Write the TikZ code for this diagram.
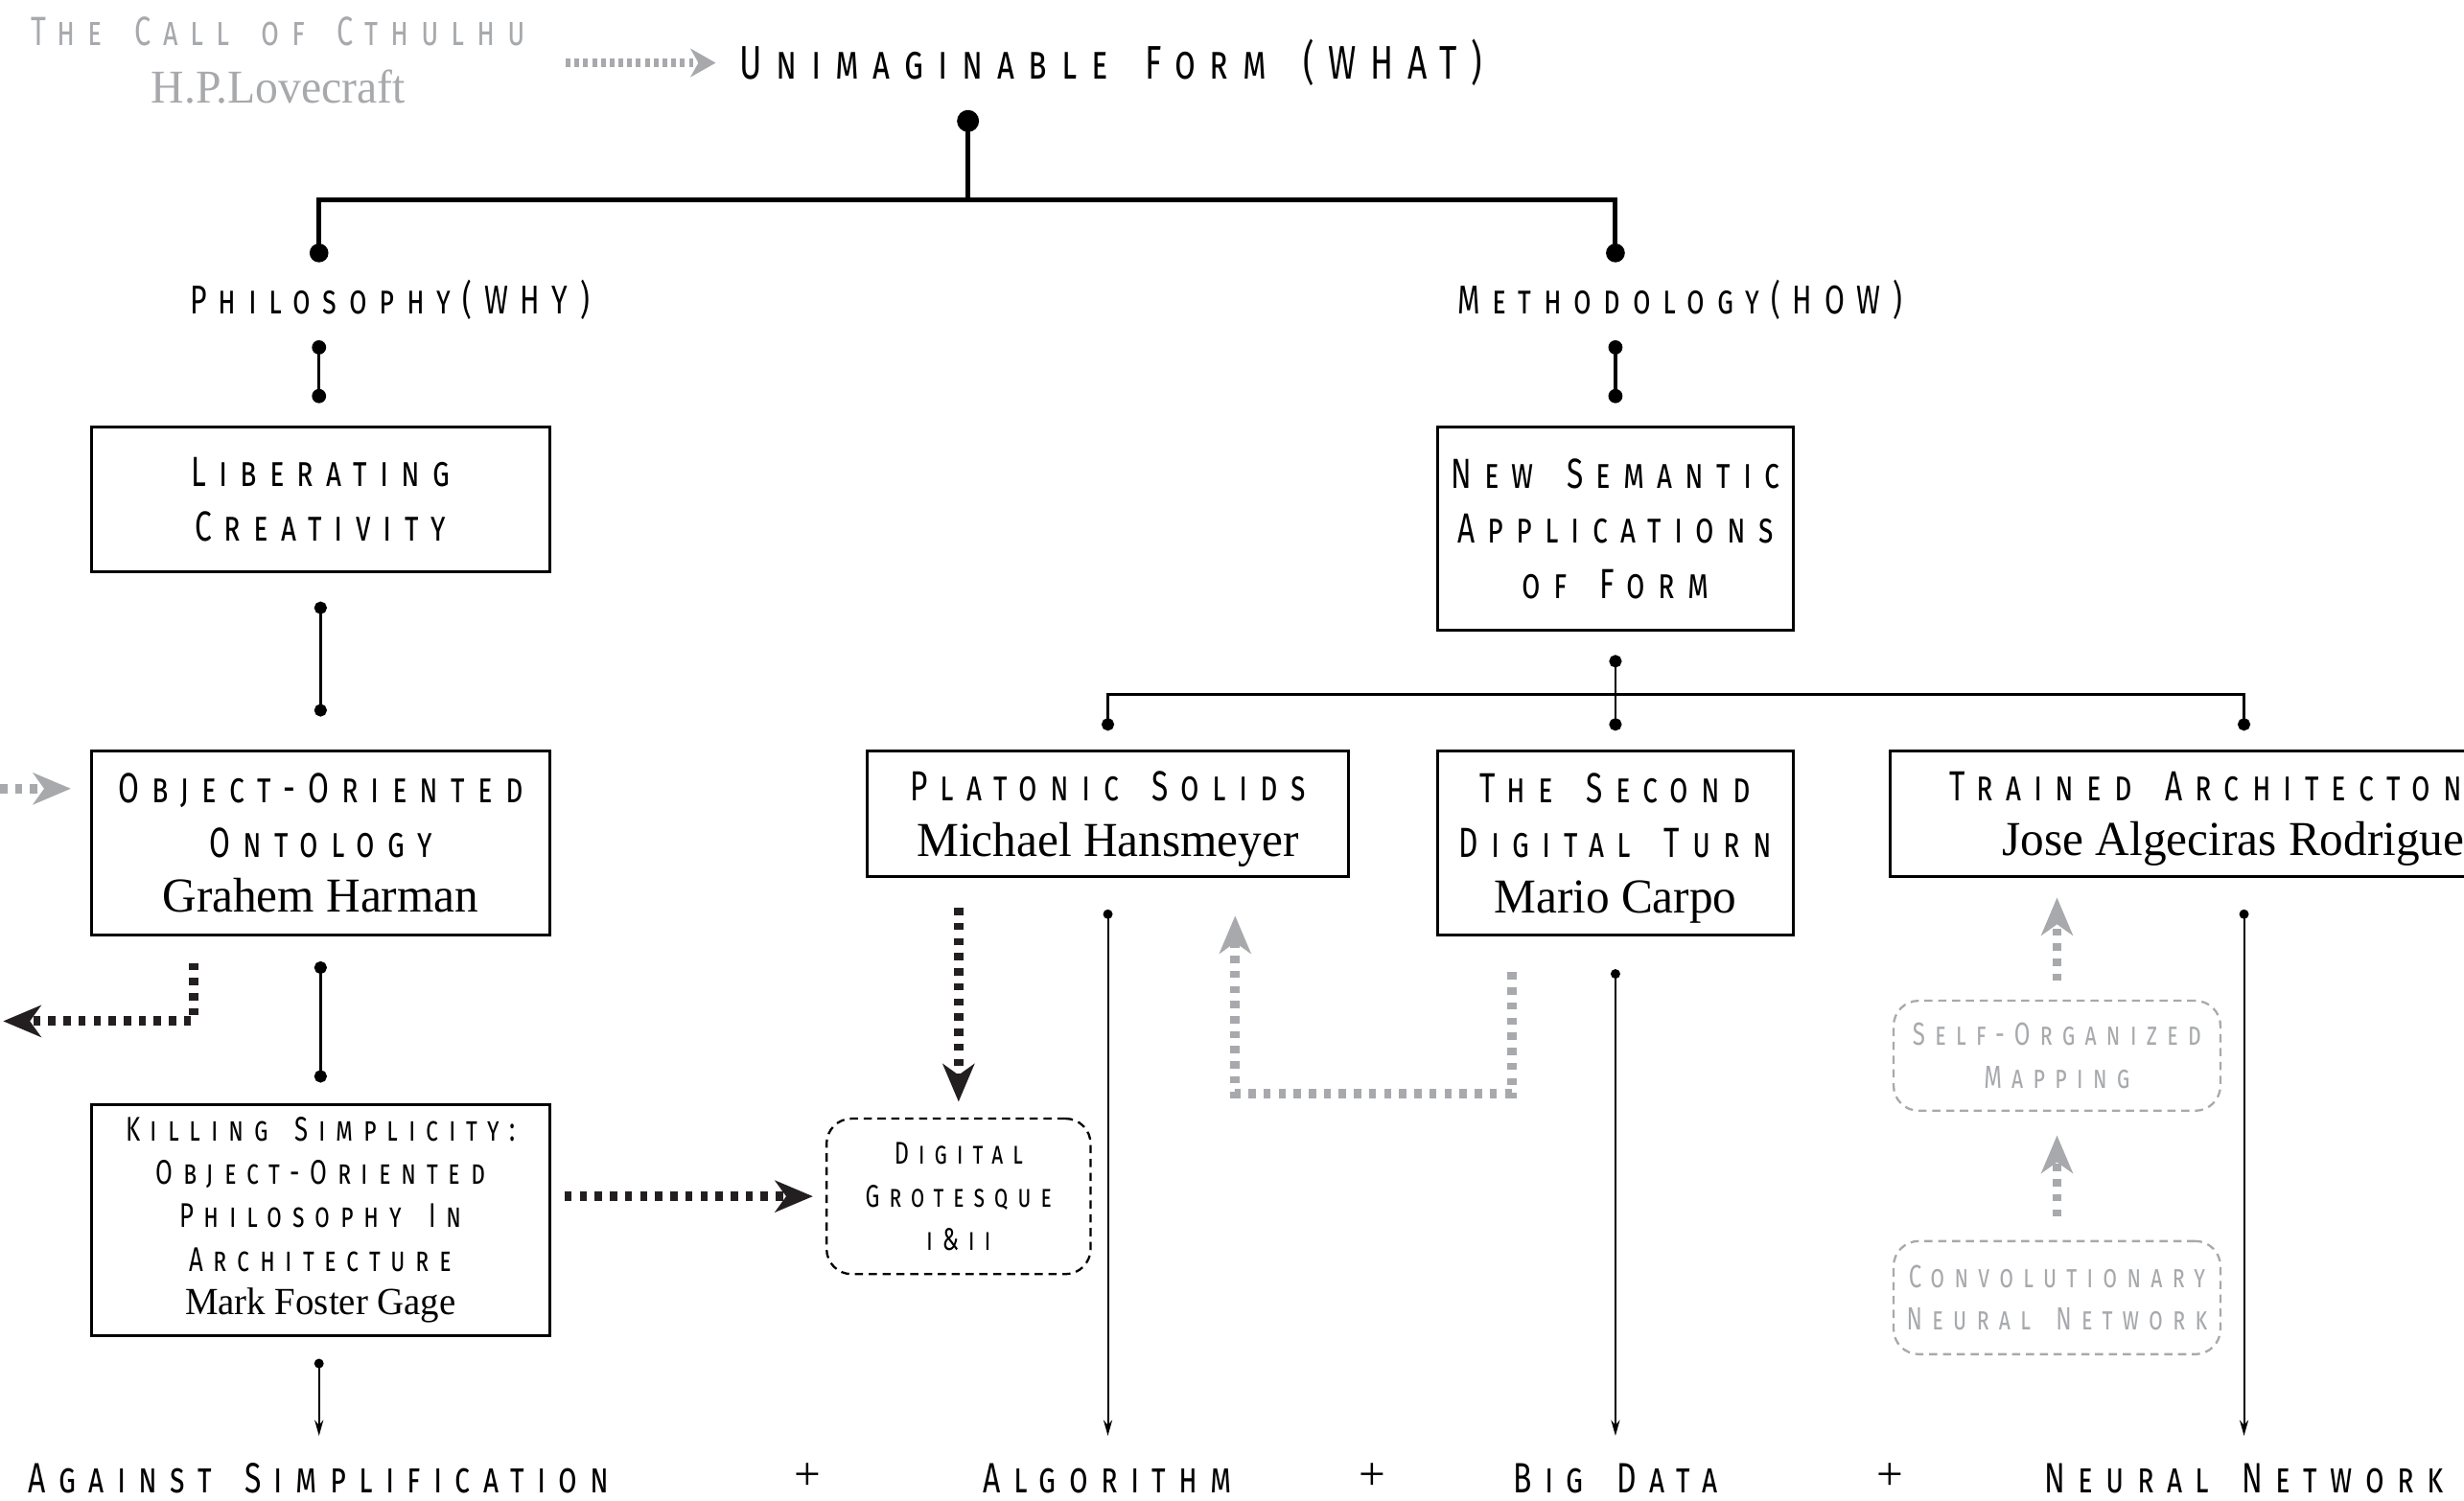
\documentclass[tikz,border=0pt]{standalone}
\usepackage{fontspec}
\usetikzlibrary{arrows.meta,calc}
\setmainfont{Liberation Serif}
\newfontfamily\scf[Letters=SmallCaps,FakeStretch=0.72,LetterSpace=30,WordSpace=1.6]{Fira Sans}
\newfontfamily\serf[FakeStretch=0.97]{Liberation Serif}
\definecolor{lgray}{HTML}{A7A9AC}
\definecolor{dkarrow}{HTML}{231F20}
\newcommand\fA{\scf\fontsize{13.4}{17.5}\selectfont}
\newcommand\fB{\scf\fontsize{10.9}{13.75}\selectfont}
\newcommand\fD{\scf\fontsize{10}{13.75}\selectfont}
\newcommand\fC{\scf\fontsize{10.2}{13.5}\selectfont}
\newcommand\fH{\scf\fontsize{12.8}{16}\selectfont}
\newcommand\fF{\scf\fontsize{13.5}{16}\selectfont}
\newcommand\fT{\scf\fontsize{15}{20}\selectfont}
\newcommand\fS{\scf\fontsize{13}{14}\selectfont}
\newcommand\nameA{\serf\fontsize{15.5}{17.5}\selectfont}
\newcommand\nameB{\serf\fontsize{12.2}{13.75}\selectfont}
\tikzset{
  box/.style={draw, line width=0.9pt, inner sep=0pt, align=center},
  dbox/.style={draw, dash pattern=on 2.6pt off 1.8pt, rounded corners=8pt, line width=0.7pt, inner sep=0pt, align=center},
  gdbox/.style={dbox, draw=lgray, text=lgray},
  conA/.style={line width=1.5pt},
  conB/.style={line width=1pt, {Circle[length=4.5pt]}-{Circle[length=4.5pt]}},
  conC/.style={line width=0.8pt, {Circle[length=4pt]}-{Circle[length=4pt]}},
  tarrow/.style={line width=0.6pt, {Circle[length=3pt]}-{Stealth[length=5pt,width=2.8pt]}},
  bdots/.style={line width=3pt, draw=dkarrow, dash pattern=on 2.3pt off 2.5pt, -{Stealth[length=12pt,width=10pt,inset=3.5pt]}},
  gdots/.style={bdots, draw=lgray},
  gsmall/.style={line width=2.6pt, draw=lgray, dash pattern=on 1.5pt off 1.3pt, -{Stealth[length=8pt,width=9pt,inset=2.5pt]}},
}
\begin{document}
\begin{tikzpicture}[x=0.5pt,y=-0.5pt]
\useasboundingbox (0,0) rectangle (1568,955);
\clip (0,0) rectangle (1568,955);

% titles
\node[font=\fS, text=lgray] (cth) at (177,20) {The Call of Cthulhu};
\node[font=\serf\fontsize{15}{16}\selectfont, text=lgray] (hpl) at (177,55) {H.P.Lovecraft};
\node[font=\fT] (what) at (707,40) {Unimaginable Form (WHAT)};
\node[font=\fH] (phil) at (248,191) {Philosophy(WHY)};
\node[font=\fH] (meth) at (1069,191) {Methodology(HOW)};

% boxes
\node[box, minimum width=146pt, minimum height=46pt, font=\fA] (lib) at (204,318) {Liberating\\Creativity};
\node[box, minimum width=146pt, minimum height=58.5pt, font=\fA] (ooo) at (204,536.5) {Object-Oriented\\Ontology\\{\nameA Grahem Harman}};
\node[box, minimum width=146pt, minimum height=73.5pt, font=\fB] (kill) at (204,776.5) {Killing Simplicity:\\Object-Oriented\\Philosophy In\\Architecture\\{\nameB Mark Foster Gage}};
\node[dbox, minimum width=84pt, minimum height=49.5pt, font=\fD] (dg) at (610,761.5) {Digital\\Grotesque\\i\&ii};
\node[box, minimum width=113pt, minimum height=64.5pt, font=\fA] (nsa) at (1028,336.5) {New Semantic\\Applications\\of Form};
\node[box, minimum width=153pt, minimum height=40pt, font=\fA] (plat) at (705,518) {Platonic Solids\\{\nameA\smash{Michael Hansmeyer}}};
\node[box, minimum width=113pt, minimum height=58.5pt, font=\fA] (sdt) at (1028,536.5) {The Second\\Digital Turn\\{\nameA\smash{Mario Carpo}}};
\node[box, minimum width=225pt, minimum height=40pt, font=\fA] (ta) at (1428,518) {Trained Architectonics\\{\nameA\smash{Jose Algeciras Rodriguez}}};
\node[gdbox, minimum width=104pt, minimum height=35pt, font=\fC] (som) at (1309,672) {Self-Organized\\Mapping};
\node[gdbox, minimum width=104pt, minimum height=36pt, font=\fC] (cnn) at (1309,826) {Convolutionary\\Neural Network};

% bottom
\node[font=\fF] (against) at (203,941) {Against Simplification};
\node[font=\fontsize{15}{15}\selectfont] (p1) at (514,940) {+};
\node[font=\fF] (algo) at (705,941) {Algorithm};
\node[font=\fontsize{15}{15}\selectfont] (p2) at (873,940) {+};
\node[font=\fF] (bigd) at (1028,941) {Big Data};
\node[font=\fontsize{15}{15}\selectfont] (p3) at (1203,940) {+};
\node[font=\fF] (nn) at (1428,941) {Neural Network};

% top tree
\coordinate (wd) at (616,77);
\coordinate (wj) at (616,127);
\coordinate (pd) at (203,161);
\coordinate (md) at (1028,161);
\draw[conA] (wd) -- (wj);
\draw[conA] (pd) |- (wj) -| (md);
\fill (wd) circle (3.5pt);
\fill (pd) circle (3pt);
\fill (md) circle (3pt);

% level connectors
\draw[conB] ($(lib.north)+(-1,-54.5)$) -- ($(lib.north)+(-1,-14.5)$);
\draw[conB] ($(nsa.north)+(0,-54.5)$) -- ($(nsa.north)+(0,-14.5)$);
\draw[conC] ($(lib.south)+(0,18)$) -- ($(ooo.north)+(0,-21)$);
\draw[conC] ($(ooo.south)+(0,16)$) -- ($(kill.north)+(0,-13)$);
\draw[conC] ($(nsa.south)+(0,15)$) -- ($(sdt.north)+(0,-12)$);
\draw[conC] ($(plat.north)+(0,-12)$) |- ($(nsa.south)+(0,40)$) -| ($(ta.north)+(0,-12)$);

% thin arrows to bottom
\draw[tarrow] ($(kill.south)+(-1,14)$) -- ($(kill.south)+(-1,63)$);
\draw[tarrow] ($(plat.south)+(0,20)$) -- ($(plat.south)+(0,355)$);
\draw[tarrow] ($(sdt.south)+(0,21)$) -- ($(sdt.south)+(0,318)$);
\draw[tarrow] ($(ta.south)+(0,20)$) -- ($(ta.south)+(0,355)$);

% dotted arrows
\coordinate (tin) at (360,40);
\draw[gsmall] (tin) -- ($(what.west)+(-8,0)$);
\coordinate (oin) at (0,502);
\draw[gdots] (oin) -- ($(ooo.west)+(-12,-34.5)$);
\coordinate (oleft) at (2,650);
\draw[bdots] ($(ooo.south)+(-81,17)$) |- (oleft);
\draw[bdots] ($(plat.south)+(-95,19)$) -- ($(dg.north)+(0,-10)$);
\draw[bdots] ($(dg.west)+(-166,0)$) -- ($(dg.west)+(-8,0)$);
\draw[gdots] ($(sdt.south)+(-66,23)$) -- ++(0,77) -| ($(plat.south)+(81,24)$);
\draw[gdots] ($(som.north)+(0,-12)$) -- ($(som.north)+(0,-65)$);
\draw[gdots] ($(cnn.north)+(0,-15)$) -- ($(som.south)+(0,15)$);
\end{tikzpicture}
\end{document}
